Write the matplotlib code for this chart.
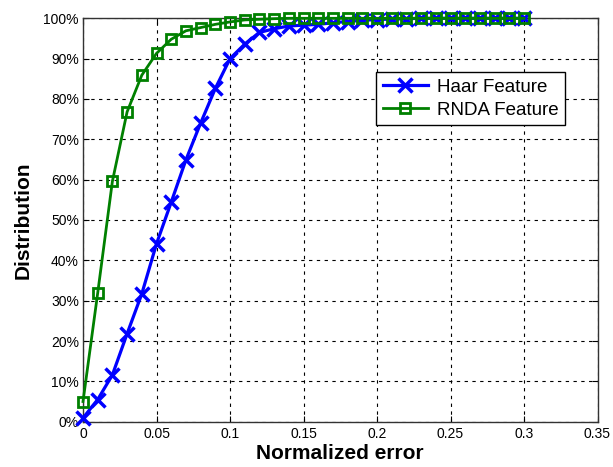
import matplotlib
matplotlib.use("Agg")
import matplotlib.pyplot as plt
from matplotlib.ticker import FuncFormatter

plt.rcParams['font.family'] = ['Liberation Sans', 'DejaVu Sans']

x_err = [0.00, 0.01, 0.02, 0.03, 0.04, 0.05, 0.06, 0.07, 0.08, 0.09, 0.10,
         0.11, 0.12, 0.13, 0.14, 0.15, 0.16, 0.17, 0.18, 0.19, 0.20,
         0.21, 0.22, 0.23, 0.24, 0.25, 0.26, 0.27, 0.28, 0.29, 0.30]
haar = [0.9, 5.5, 11.6, 21.8, 31.7, 44.1, 54.4, 64.9, 74.0, 82.6, 90.0,
        93.6, 96.5, 97.4, 98.1, 98.3, 98.5, 98.9, 99.2, 99.5, 99.7,
        99.8, 99.9, 100, 100, 100, 100, 100, 100, 100, 100]
rnda = [5.0, 31.9, 59.6, 76.8, 85.9, 91.3, 94.8, 96.9, 97.7, 98.5, 99.1,
        99.6, 99.75, 99.9, 100, 100, 100, 100, 100, 100, 100,
        100, 100, 100, 100, 100, 100, 100, 100, 100, 100]
x_ticks = [0, 0.05, 0.1, 0.15, 0.2, 0.25, 0.3, 0.35]
x_tick_labels = ['0', '0.05', '0.1', '0.15', '0.2', '0.25', '0.3', '0.35']
y_ticks = [0, 10, 20, 30, 40, 50, 60, 70, 80, 90, 100]

fig = plt.figure(figsize=(6.13, 4.67), dpi=100)
ax = fig.add_axes([83 / 613, (467 - 421.7) / 467, (597.5 - 83) / 613, (421.7 - 18.3) / 467])

ax.plot(x_err, haar, color='#0000FF', linewidth=2.3, marker='x', markersize=9.5,
        markeredgewidth=2.5, label='Haar Feature', clip_on=False, zorder=3)
ax.plot(x_err, rnda, color='#008000', linewidth=2.0, marker='s', markersize=7,
        markerfacecolor='none', markeredgewidth=2.0, label='RNDA Feature',
        clip_on=False, zorder=4)

ax.set_xlim(0, 0.35)
ax.set_ylim(0, 100)
ax.set_xticks(x_ticks)
ax.set_xticklabels(x_tick_labels)
ax.set_yticks(y_ticks)
ax.yaxis.set_major_formatter(FuncFormatter(lambda v, p: f"{int(round(v))}%"))
ax.tick_params(direction='in', length=4, width=0.8, labelsize=10, colors='black',
               top=True, right=True)
ax.tick_params(axis='x', pad=4)
ax.tick_params(axis='y', pad=3)
ax.grid(True, color='black', linestyle=(0, (3, 4)), linewidth=0.8)
ax.set_axisbelow(True)
for s in ax.spines.values():
    s.set_linewidth(1.0)
    s.set_color('#333333')

ax.set_xlabel('Normalized error', fontsize=15, fontweight='bold', labelpad=2)
ax.set_ylabel('Distribution', fontsize=15, fontweight='bold', labelpad=8)

leg = ax.legend(loc='upper right', bbox_to_anchor=(0.937, 0.866), borderaxespad=0,
                fontsize=13.5, fancybox=False, framealpha=1, edgecolor='black',
                handlelength=2.4, borderpad=0.35, labelspacing=0.3, handletextpad=0.5)
leg.get_frame().set_linewidth(1.0)

fig.savefig('out.png', dpi=100)
